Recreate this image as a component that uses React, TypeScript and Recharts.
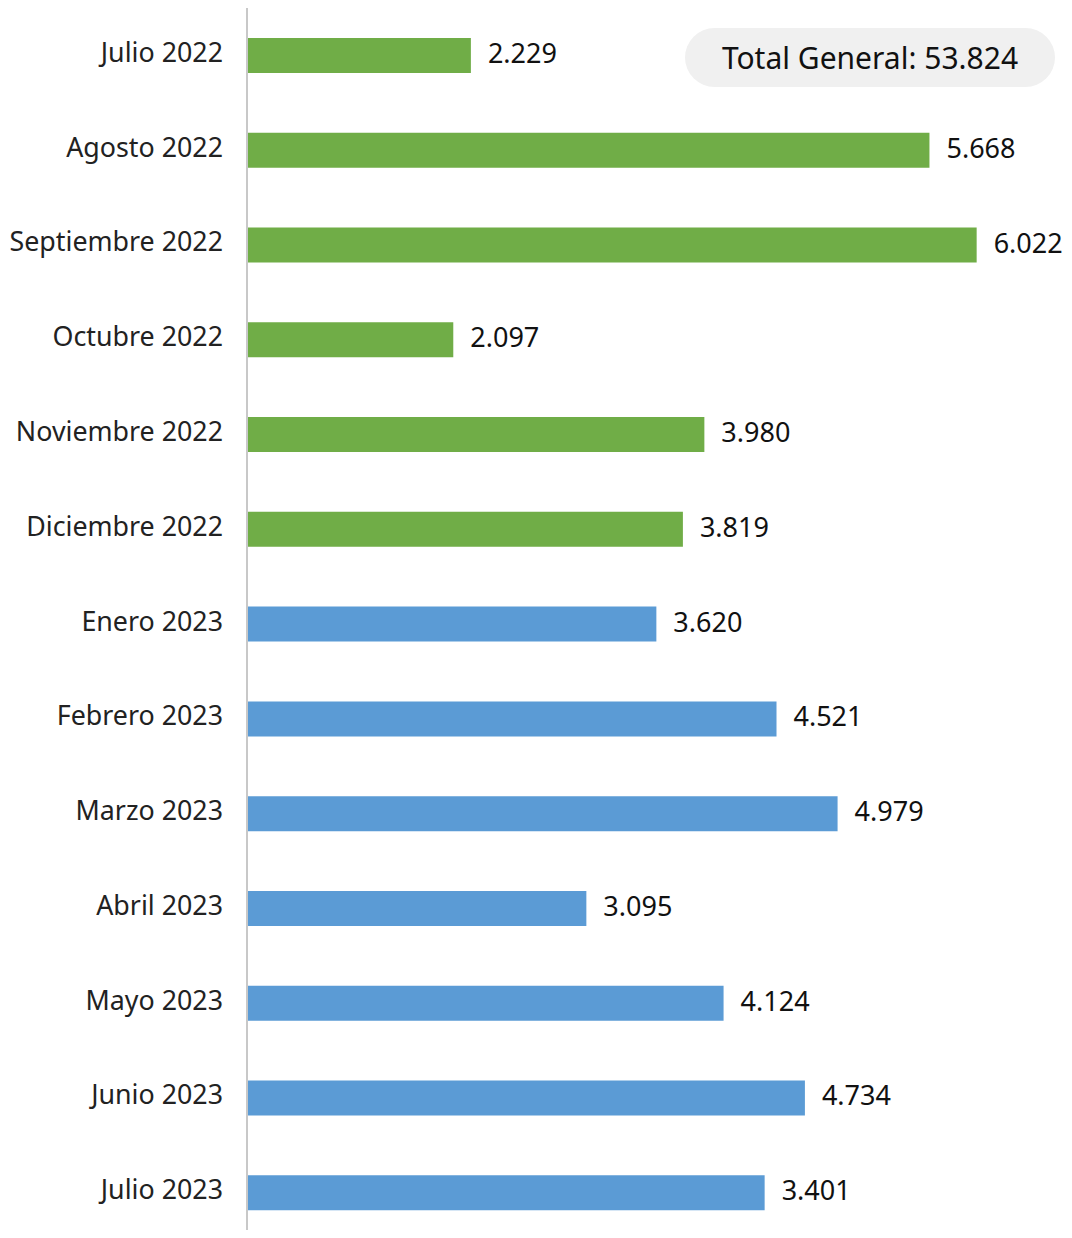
import React from "react";
import { BarChart, Bar, XAxis, YAxis, Cell, LabelList } from "recharts";

const categories = [
  "Julio 2022",
  "Agosto 2022",
  "Septiembre 2022",
  "Octubre 2022",
  "Noviembre 2022",
  "Diciembre 2022",
  "Enero 2023",
  "Febrero 2023",
  "Marzo 2023",
  "Abril 2023",
  "Mayo 2023",
  "Junio 2023",
  "Julio 2023",
];

// bar lengths
const barValues = [2229, 5668, 6022, 2097, 3980, 3819, 3620, 4521, 4979, 3095, 4124, 4734, 4432];

// value labels as printed next to each bar
const valueLabels = [
  "2.229", "5.668", "6.022", "2.097", "3.980", "3.819", "3.620",
  "4.521", "4.979", "3.095", "4.124", "4.734", "3.401",
];

const totalLabel = "Total General: 53.824";

const xDomain = [550, 6677];

const data = categories.map((c, i) => ({ name: c, value: barValues[i], label: valueLabels[i] }));

const GREEN = "#70AD47";
const BLUE = "#5B9BD5";
const FONT = "'Noto Sans', sans-serif";

const ValueLabel = (props: any) => {
  const { x, y, width, height, index } = props;
  return (
    <text
      x={Number(x) + Number(width) + 17}
      y={Number(y) + Number(height) / 2 - 3}
      dominantBaseline="central"
      fontSize={27}
      fontFamily={FONT}
      fill="#111"
    >
      {valueLabels[index]}
    </text>
  );
};

const CategoryTick = (props: any) => {
  const { x, y, payload } = props;
  return (
    <text
      x={x - 16}
      y={y - 4}
      textAnchor="end"
      dominantBaseline="central"
      fontSize={26.8}
      fontFamily={FONT}
      fill="#222"
    >
      {payload.value}
    </text>
  );
};

export default function App() {
  return (
    <div style={{ margin: -8, position: "relative", width: 1072, height: 1238, background: "#fff", fontFamily: FONT }}>
      <BarChart
        width={1072}
        height={1240}
        data={data}
        layout="vertical"
        margin={{ top: 8, right: 8, bottom: 0, left: 0 }}
        barCategoryGap={0}
      >
        <XAxis type="number" domain={xDomain} hide allowDataOverflow />
        <YAxis
          type="category"
          dataKey="name"
          width={247}
          axisLine={{ stroke: "#c8c8c8", strokeWidth: 2 }}
          tickLine={false}
          tick={<CategoryTick />}
          interval={0}
        />
        <Bar dataKey="value" barSize={35} isAnimationActive={false}>
          {data.map((d, i) => (
            <Cell key={i} fill={d.name.endsWith("2022") ? GREEN : BLUE} />
          ))}
          <LabelList dataKey="label" content={<ValueLabel />} />
        </Bar>
      </BarChart>
      <div
        style={{
          position: "absolute",
          left: 685,
          top: 28,
          width: 370,
          height: 59,
          borderRadius: 30,
          background: "#f0f0f0",
          display: "flex",
          alignItems: "center",
          justifyContent: "center",
          fontSize: 30,
          lineHeight: "59px",
          color: "#111",
          fontFamily: FONT,
        }}
      >
        {totalLabel}
      </div>
    </div>
  );
}
